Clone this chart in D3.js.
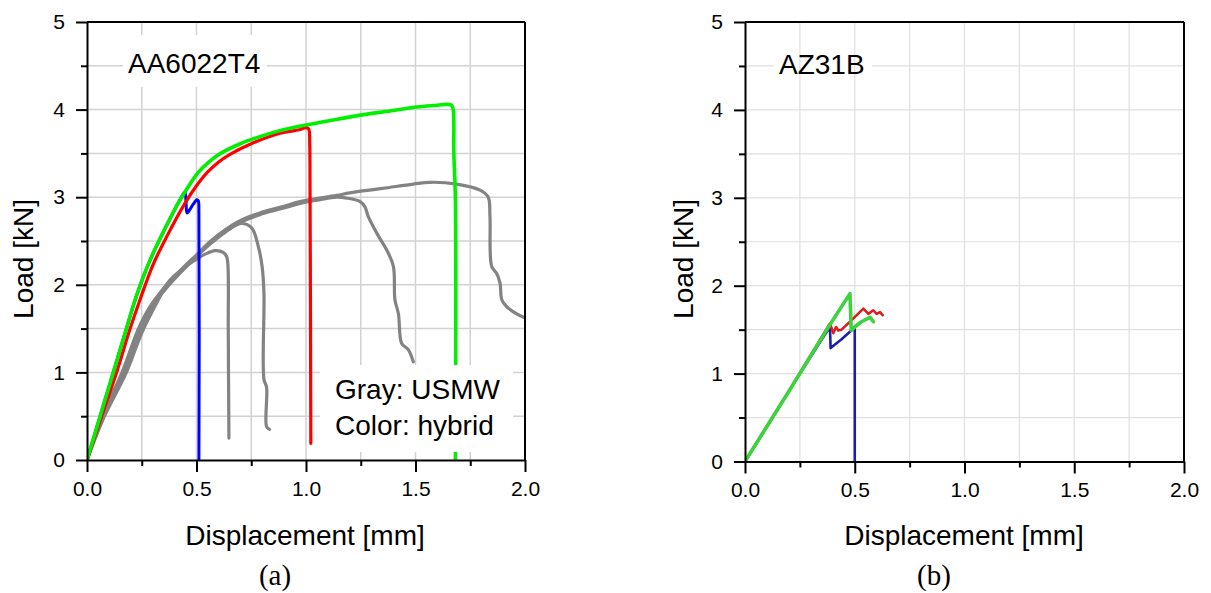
<!DOCTYPE html>
<html>
<head>
<meta charset="utf-8">
<script src="https://cdn.jsdelivr.net/npm/d3@7"></script>
<style>
  html, body { margin: 0; padding: 0; background: #fff; }
  svg { display: block; }
  text { font-family: "Liberation Sans", Arial, sans-serif; fill: #000; }
</style>
</head>
<body>
<svg id="chart" width="1211" height="593"></svg>
<script>
// ---------------- DATA ----------------
const xTickVals = [0, 0.5, 1, 1.5, 2];
const xTickLabels = ["0.0", "0.5", "1.0", "1.5", "2.0"];
const xMinorVals = [0.25, 0.75, 1.25, 1.75];
const yTickVals = [0, 1, 2, 3, 4, 5];
const yTickLabels = ["0", "1", "2", "3", "4", "5"];
const yMinorVals = [0.5, 1.5, 2.5, 3.5, 4.5];
const xGridVals = [0.25, 0.5, 0.75, 1, 1.25, 1.5, 1.75];
const yGridVals = [0.5, 1, 1.5, 2, 2.5, 3, 3.5, 4, 4.5];

const xTitle = "Displacement [mm]";
const yTitle = "Load [kN]";
const panelTitles = ["AA6022T4", "AZ31B"];
const captions = ["(a)", "(b)"];
const noteLines = ["Gray: USMW", "Color: hybrid"];

// (a) AA6022T4 — [displacement mm, load kN]
const aaGray1 = [[0,0],[0.08,0.5],[0.18,1.0],[0.25,1.45],[0.32,1.8],[0.371,2.03],[0.43,2.17],[0.493,2.28],[0.54,2.35],[0.584,2.39],[0.622,2.37],[0.638,2.32],[0.644,2.2],[0.645,1.5],[0.648,0.25]];
const aaGray2 = [[0,0],[0.07,0.5],[0.165,1.0],[0.24,1.5],[0.30,1.78],[0.36,1.99],[0.447,2.2],[0.50,2.33],[0.569,2.49],[0.64,2.62],[0.706,2.70],[0.752,2.65],[0.782,2.44],[0.80,2.2],[0.808,1.9],[0.808,0.92],[0.82,0.83],[0.82,0.38],[0.833,0.35]];
const aaGray3 = [[0,0],[0.075,0.5],[0.17,1.0],[0.245,1.5],[0.30,1.76],[0.365,1.97],[0.447,2.19],[0.50,2.32],[0.569,2.48],[0.69,2.70],[0.80,2.81],[0.904,2.88],[0.973,2.93],[1.06,2.97],[1.14,3.0],[1.186,2.99],[1.247,2.95],[1.269,2.89],[1.284,2.78],[1.323,2.59],[1.368,2.40],[1.399,2.21],[1.406,1.83],[1.422,1.67],[1.437,1.33],[1.467,1.26],[1.49,1.12]];
const aaGray4 = [[0,0],[0.07,0.5],[0.16,1.0],[0.235,1.5],[0.29,1.76],[0.355,1.97],[0.44,2.2],[0.50,2.34],[0.565,2.5],[0.69,2.72],[0.80,2.83],[0.904,2.9],[0.973,2.95],[1.14,3.02],[1.2,3.05],[1.35,3.1],[1.49,3.15],[1.566,3.17],[1.688,3.15],[1.795,3.08],[1.832,3.0],[1.84,2.78],[1.848,2.21],[1.871,2.13],[1.886,2.02],[1.894,1.83],[1.916,1.75],[1.947,1.69],[2.0,1.62]];
const aaBlue  = [[0,0],[0.06,0.5],[0.12,1.0],[0.18,1.5],[0.22,1.83],[0.26,2.11],[0.30,2.35],[0.342,2.57],[0.38,2.76],[0.42,2.95],[0.447,3.06],[0.452,2.95],[0.457,2.82],[0.47,2.86],[0.485,2.92],[0.502,2.97],[0.508,2.96],[0.511,2.8],[0.511,0]];
const aaRed   = [[0,0],[0.067,0.5],[0.135,1.0],[0.197,1.5],[0.242,1.83],[0.30,2.22],[0.364,2.55],[0.447,2.93],[0.50,3.13],[0.548,3.28],[0.60,3.40],[0.653,3.49],[0.75,3.61],[0.881,3.73],[0.97,3.77],[1.0,3.795],[1.012,3.78],[1.017,3.6],[1.018,3.4],[1.022,0.19]];
const aaGreen = [[0,0],[0.06,0.5],[0.12,1.0],[0.18,1.5],[0.22,1.83],[0.26,2.11],[0.30,2.35],[0.342,2.57],[0.38,2.76],[0.416,2.93],[0.46,3.11],[0.507,3.28],[0.56,3.41],[0.61,3.5],[0.70,3.61],[0.80,3.7],[0.88,3.76],[0.97,3.81],[1.1,3.87],[1.256,3.94],[1.4,3.99],[1.507,4.03],[1.60,4.05],[1.644,4.06],[1.664,4.05],[1.672,4.0],[1.675,3.5],[1.682,3.0],[1.682,0]];

// (b) AZ31B
const azBlue  = [[0,0],[0.2,0.8],[0.342,1.36],[0.387,1.53],[0.39,1.29],[0.44,1.39],[0.493,1.51],[0.50,1.52],[0.50,0]];
const azRed   = [[0,0],[0.2,0.8],[0.387,1.57],[0.402,1.46],[0.415,1.53],[0.425,1.49],[0.44,1.50],[0.478,1.59],[0.509,1.665],[0.539,1.74],[0.562,1.68],[0.584,1.72],[0.60,1.68],[0.615,1.70],[0.627,1.665]];
const azGreen = [[0,0],[0.2,0.8],[0.38,1.53],[0.478,1.91],[0.484,1.49],[0.50,1.53],[0.53,1.59],[0.57,1.64],[0.585,1.59]];

// ---------------- DRAW ----------------
const svg = d3.select("#chart");

const panels = [
  {
    xr: [87, 525], yr: [460, 22], gridColor: "#d2d2d2", gridW: 1.5, smooth: true,
    series: [
      { d: aaGray1, c: "#838383", w: 3.2 },
      { d: aaGray2, c: "#838383", w: 3.2 },
      { d: aaGray3, c: "#838383", w: 3.2 },
      { d: aaGray4, c: "#838383", w: 3.2 },
      { d: aaBlue,  c: "#0000ff", w: 3 },
      { d: aaRed,   c: "#ff0000", w: 3.2 },
      { d: aaGreen, c: "#00f000", w: 3.6 }
    ],
    title: panelTitles[0], titleX: 128, titleY: 73, titleBox: [123, 35, 144, 52],
    note: true, caption: captions[0], capX: 275, yTitleX: 33, xTitleX: 305
  },
  {
    xr: [745, 1184], yr: [461.5, 22], gridColor: "#e0e0e0", gridW: 1.2, smooth: false,
    series: [
      { d: azBlue,  c: "#1c1cb4", w: 2.6 },
      { d: azRed,   c: "#dc1e1e", w: 2.6 },
      { d: azGreen, c: "#3fd23f", w: 3.6 }
    ],
    title: panelTitles[1], titleX: 779, titleY: 74, titleBox: [774, 58, 98, 16],
    note: false, caption: captions[1], capX: 934, yTitleX: 693, xTitleX: 964
  }
];

panels.forEach((p, pi) => {
  const x = d3.scaleLinear().domain([0, 2]).range(p.xr);
  const y = d3.scaleLinear().domain([0, 5]).range(p.yr);
  const g = svg.append("g");

  g.selectAll(".gy").data(yGridVals).enter().append("line")
    .attr("x1", x(0)).attr("x2", x(2))
    .attr("y1", d => y(d)).attr("y2", d => y(d))
    .attr("stroke", p.gridColor).attr("stroke-width", p.gridW);

  if (pi === 1) {
    g.append("rect").attr("x", p.titleBox[0]).attr("y", p.titleBox[1])
      .attr("width", p.titleBox[2]).attr("height", p.titleBox[3]).attr("fill", "#fff");
  }

  g.selectAll(".gx").data(xGridVals).enter().append("line")
    .attr("x1", d => x(d)).attr("x2", d => x(d))
    .attr("y1", y(0)).attr("y2", y(5))
    .attr("stroke", p.gridColor).attr("stroke-width", p.gridW);

  if (pi === 0) {
    g.append("rect").attr("x", p.titleBox[0]).attr("y", p.titleBox[1])
      .attr("width", p.titleBox[2]).attr("height", p.titleBox[3]).attr("fill", "#fff");
  }

  const clipId = "clip" + pi;
  svg.append("clipPath").attr("id", clipId).append("rect")
    .attr("x", x(0)).attr("y", y(5)).attr("width", x(2) - x(0)).attr("height", y(0) - y(5));

  const line = d3.line().x(d => x(d[0])).y(d => y(d[1]))
    .curve(p.smooth ? d3.curveCatmullRom.alpha(0.5) : d3.curveLinear);
  const lg = g.append("g").attr("clip-path", `url(#${clipId})`);
  p.series.forEach(s => {
    lg.append("path").attr("d", line(s.d)).attr("fill", "none")
      .attr("stroke", s.c).attr("stroke-width", s.w)
      .attr("stroke-linejoin", "round").attr("stroke-linecap", "round");
  });

  if (p.note) {
    g.append("rect").attr("x", 320).attr("y", 365).attr("width", 193).attr("height", 87).attr("fill", "#fff");
    noteLines.forEach((t, i) => {
      g.append("text").attr("x", 335).attr("y", 399 + i * 35.5)
        .attr("font-size", 28).text(t);
    });
  }

  g.append("text").attr("x", p.titleX).attr("y", p.titleY).attr("font-size", 28).text(p.title);

  g.append("line").attr("x1", x(0)).attr("x2", x(2)).attr("y1", y(5)).attr("y2", y(5))
    .attr("stroke", "#000").attr("stroke-width", 2);
  g.append("line").attr("x1", x(2)).attr("x2", x(2)).attr("y1", y(5)).attr("y2", y(0))
    .attr("stroke", "#000").attr("stroke-width", 2);

  const xAxis = d3.axisBottom(x).tickValues(xTickVals).tickFormat((d, i) => xTickLabels[i])
    .tickSize(12).tickPadding(9).tickSizeOuter(0);
  const xMinor = d3.axisBottom(x).tickValues(xMinorVals).tickFormat("").tickSize(6).tickSizeOuter(0);
  const yAxis = d3.axisLeft(y).tickValues(yTickVals).tickFormat((d, i) => yTickLabels[i])
    .tickSize(11).tickPadding(11).tickSizeOuter(0);
  const yMinor = d3.axisLeft(y).tickValues(yMinorVals).tickFormat("").tickSize(6).tickSizeOuter(0);

  const styleAxis = sel => {
    sel.selectAll("path.domain").attr("stroke", "#000").attr("stroke-width", 2);
    sel.selectAll(".tick line").attr("stroke", "#000").attr("stroke-width", 2);
    sel.selectAll(".tick text").attr("font-size", 21)
      .attr("font-family", '"Liberation Sans", Arial, sans-serif').attr("fill", "#000");
  };
  g.append("g").attr("transform", `translate(0,${y(0)})`).call(xMinor).call(styleAxis)
    .select("path.domain").remove();
  g.append("g").attr("transform", `translate(${x(0)},0)`).call(yMinor).call(styleAxis)
    .select("path.domain").remove();
  g.append("g").attr("transform", `translate(0,${y(0)})`).call(xAxis).call(styleAxis);
  g.append("g").attr("transform", `translate(${x(0)},0)`).call(yAxis).call(styleAxis);

  g.append("text").attr("x", p.xTitleX).attr("y", 545).attr("text-anchor", "middle")
    .attr("font-size", 28).text(xTitle);
  g.append("text").attr("transform", `translate(${p.yTitleX},259) rotate(-90)`)
    .attr("text-anchor", "middle").attr("font-size", 28).text(yTitle);

  g.append("text").attr("x", p.capX).attr("y", 585).attr("text-anchor", "middle")
    .style("font-family", '"Liberation Serif", "Times New Roman", serif')
    .attr("font-size", 29).text(p.caption);
});
</script>
</body>
</html>
